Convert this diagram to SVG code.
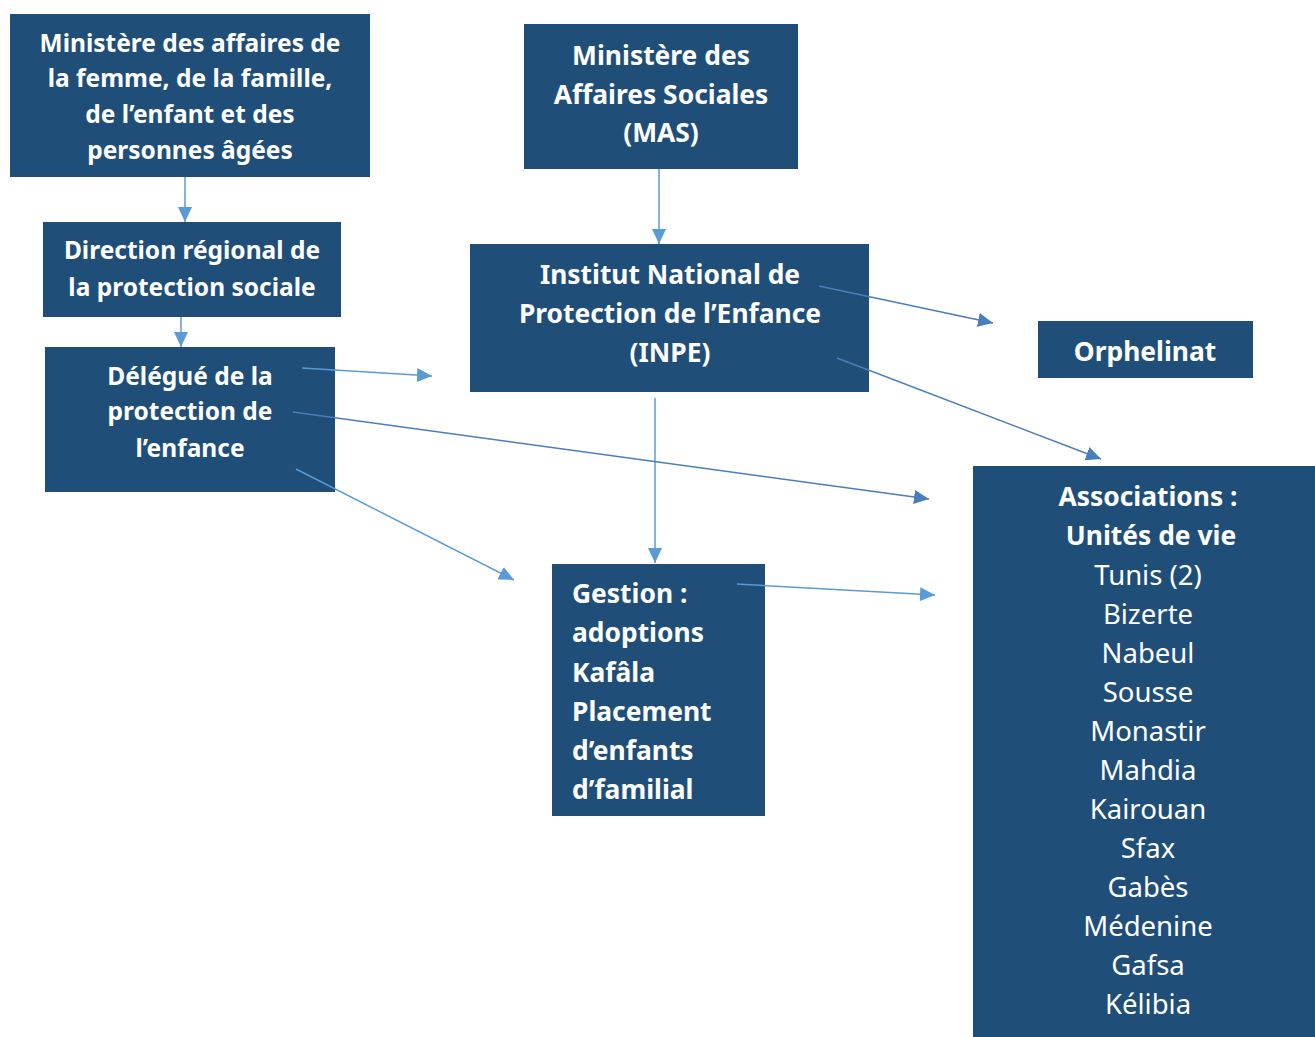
<svg xmlns="http://www.w3.org/2000/svg" width="1315" height="1037" viewBox="0 0 1315 1037">
<style>
.box{fill:#1F4E79}
.t{font-family:"Noto Sans","Open Sans","DejaVu Sans",sans-serif;fill:#fff;text-anchor:middle}
.b{font-weight:bold}
.s{font-size:24.5px}
.m{font-size:26.4px}
.r{font-size:27.5px;font-weight:normal}
.l{text-anchor:start}
.c1{stroke:#5B9BD5;stroke-width:1.5;fill:none;marker-end:url(#a1)}
.c2{stroke:#4A7EBB;stroke-width:1.5;fill:none;marker-end:url(#a2)}
</style>
<defs>
<marker id="a1" markerUnits="userSpaceOnUse" markerWidth="16" markerHeight="14" refX="15" refY="7" orient="auto"><path d="M0,0L15,7L0,14Z" fill="#5B9BD5"/></marker>
<marker id="a2" markerUnits="userSpaceOnUse" markerWidth="16" markerHeight="14" refX="15" refY="7" orient="auto"><path d="M0,0L15,7L0,14Z" fill="#4A7EBB"/></marker>
</defs>
<rect width="1315" height="1037" fill="#fff"/>
<g id="n-ministere-femme">
<rect class="box" x="10" y="14" width="360" height="163"/>
<text class="t b s" x="190" y="52">Ministère des affaires de</text>
<text class="t b s" x="190" y="87">la femme, de la famille,</text>
<text class="t b s" x="190" y="123">de l’enfant et des</text>
<text class="t b s" x="190" y="159">personnes âgées</text>
</g>
<g id="n-direction">
<rect class="box" x="43" y="222" width="298" height="95"/>
<text class="t b s" x="192" y="259">Direction régional de</text>
<text class="t b s" x="192" y="296">la protection sociale</text>
</g>
<g id="n-delegue">
<rect class="box" x="45" y="347" width="290" height="145"/>
<text class="t b s" x="190" y="385">Délégué de la</text>
<text class="t b s" x="190" y="420">protection de</text>
<text class="t b s" x="190" y="457">l’enfance</text>
</g>
<g id="n-mas">
<rect class="box" x="524" y="24" width="274" height="145"/>
<text class="t b m" x="661" y="65">Ministère des</text>
<text class="t b m" x="661" y="104">Affaires Sociales</text>
<text class="t b m" x="661" y="142">(MAS)</text>
</g>
<g id="n-inpe">
<rect class="box" x="470" y="244" width="399" height="148"/>
<text class="t b m" x="670" y="284">Institut National de</text>
<text class="t b m" x="670" y="323">Protection de l’Enfance</text>
<text class="t b m" x="670" y="362">(INPE)</text>
</g>
<g id="n-orphelinat">
<rect class="box" x="1038" y="321" width="215" height="57"/>
<text class="t b m" x="1145" y="361">Orphelinat</text>
</g>
<g id="n-gestion">
<rect class="box" x="552" y="564" width="213" height="252"/>
<text class="t b m l" x="572" y="603">Gestion :</text>
<text class="t b m l" x="572" y="642">adoptions</text>
<text class="t b m l" x="572" y="682">Kafâla</text>
<text class="t b m l" x="572" y="721">Placement</text>
<text class="t b m l" x="572" y="760">d’enfants</text>
<text class="t b m l" x="572" y="799">d’familial</text>
</g>
<g id="n-associations">
<rect class="box" x="973" y="466" width="342" height="571"/>
<text class="t b m" x="1148" y="506">Associations :</text>
<text class="t b m" x="1151" y="545">Unités de vie</text>
<text class="t r" x="1148" y="585">Tunis (2)</text>
<text class="t r" x="1148" y="624">Bizerte</text>
<text class="t r" x="1148" y="663">Nabeul</text>
<text class="t r" x="1148" y="702">Sousse</text>
<text class="t r" x="1148" y="741">Monastir</text>
<text class="t r" x="1148" y="780">Mahdia</text>
<text class="t r" x="1148" y="819">Kairouan</text>
<text class="t r" x="1148" y="858">Sfax</text>
<text class="t r" x="1148" y="897">Gabès</text>
<text class="t r" x="1148" y="936">Médenine</text>
<text class="t r" x="1148" y="975">Gafsa</text>
<text class="t r" x="1148" y="1014">Kélibia</text>
</g>
<g id="connectors">
<line class="c1" x1="185" y1="177" x2="185" y2="222"/>
<line class="c1" x1="181" y1="317" x2="181" y2="347"/>
<line class="c1" x1="659" y1="169" x2="659" y2="244"/>
<line class="c1" x1="655" y1="398" x2="655" y2="563"/>
<line class="c1" x1="302" y1="368" x2="432" y2="376"/>
<line class="c2" x1="293" y1="412" x2="929" y2="499"/>
<line class="c1" x1="296" y1="469" x2="514" y2="580"/>
<line class="c2" x1="819" y1="286" x2="993" y2="323"/>
<line class="c2" x1="837" y1="358" x2="1101" y2="459"/>
<line class="c1" x1="737" y1="584" x2="935" y2="595"/>
</g>
</svg>
